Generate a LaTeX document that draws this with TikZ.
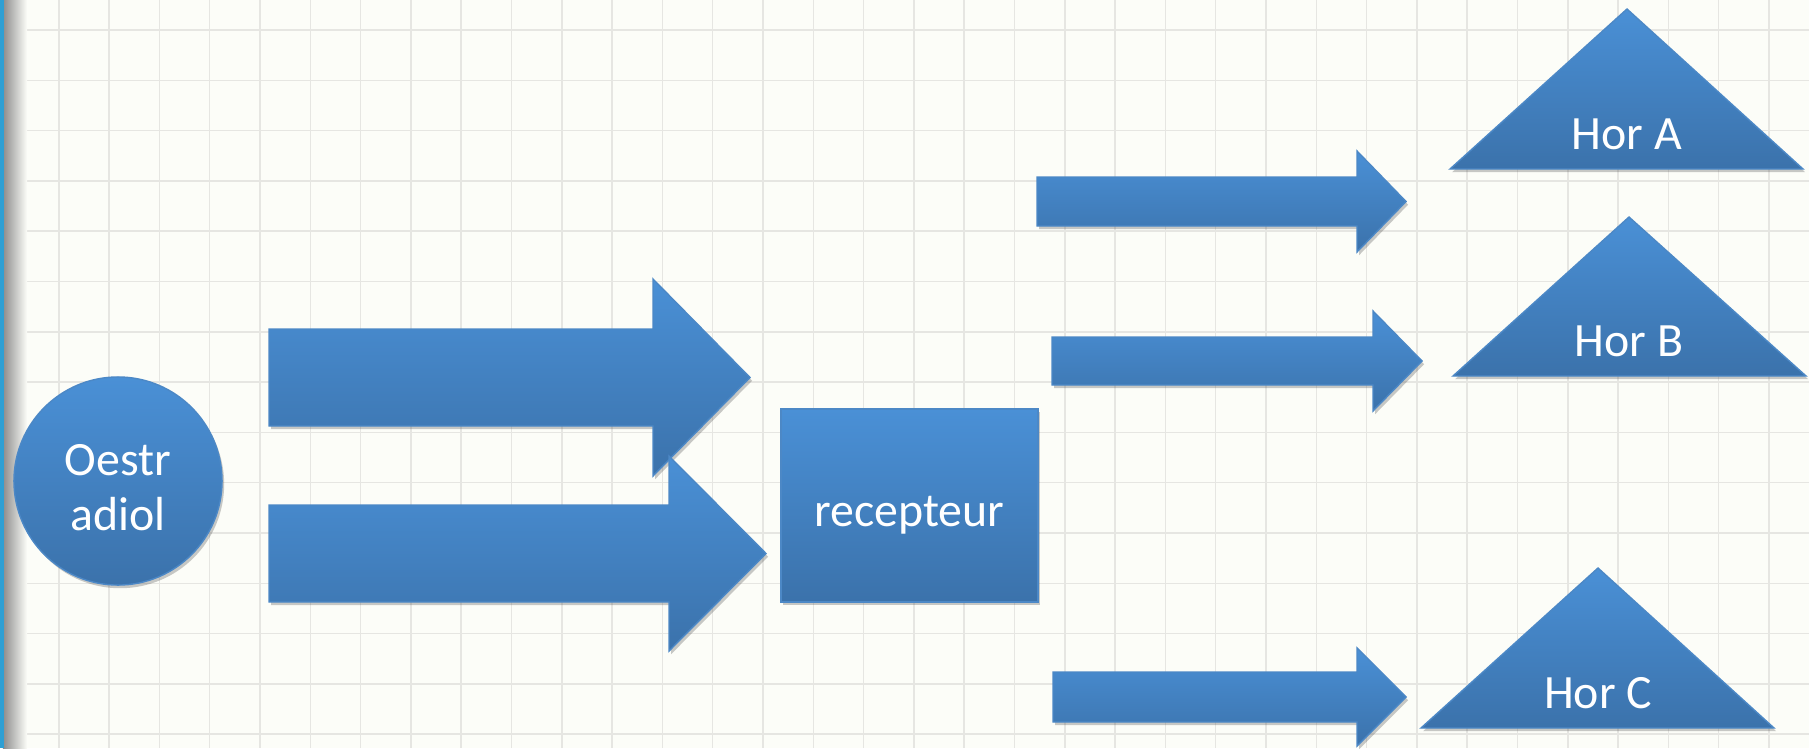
\documentclass[tikz,border=0pt]{standalone}
\usepackage{fontspec}
\setmainfont{Carlito}
\usepackage{xcolor}
\usepackage{tikz}
\usetikzlibrary{shapes.geometric,shadows,calc}
\definecolor{paper}{HTML}{FCFDF8}
\definecolor{gridln}{HTML}{E6E6E2}
\definecolor{boxtop}{HTML}{4A90D6}
\definecolor{boxbot}{HTML}{3B72AB}
\definecolor{boxedge}{HTML}{4C88C6}
\definecolor{sidebar}{HTML}{2E9FD3}

\begin{document}
\begin{tikzpicture}[
  x=0.01cm, y=-0.01cm,
  font=\fontsize{13.6}{15.6}\selectfont,
  every node/.style={align=center},
  blk/.style={top color=boxtop, bottom color=boxbot, draw=boxedge, line width=0.4pt,
              drop shadow={shadow xshift=0.6pt, shadow yshift=-0.9pt, opacity=0.3, fill=black!70}},
  lbl/.style={text=white, anchor=base, inner sep=0pt}
]
% Paper and grid
\useasboundingbox (0,0) rectangle (1809,748);
\fill[paper] (0,0) rectangle (1809,748);
\foreach \i in {0,...,34}
  \draw[gridln, line width=0.42pt] ({58.8+50.3*\i},0) -- ({58.8+50.3*\i},748);
\foreach \j in {0,...,14}
  \draw[gridln, line width=0.42pt] (0,{30+50.3*\j}) -- (1809,{30+50.3*\j});
\shade[left color=black!45, right color=paper] (3,0) rectangle (27,748);
\fill[sidebar] (0,0) rectangle (3.5,748);

% Hormone and receptor
\node[blk, circle, minimum size=2.08cm, inner sep=0pt] (oestr) at (118,481) {};
\node[text=white, inner sep=0pt] (oestrtxt) at ([yshift=-2pt]oestr.center) {Oestr\\adiol};
\node[blk, rectangle, minimum width=2.57cm, minimum height=1.93cm, inner sep=0pt,
      text=white, text height=15pt, text depth=3pt] (recep) at (909.5,505.5) {recepteur};

% Big arrows towards the receptor
\draw[blk] (269,329) -- (653,329) -- (653,279) -- (750,377.5) -- (653,476) -- (653,426) -- (269,426) -- cycle;
\draw[blk] (269,505) -- (669,505) -- (669,456) -- (766,553.5) -- (669,651) -- (669,602) -- (269,602) -- cycle;

% Small arrows towards the hormones
\draw[blk] (1037,177) -- (1357,177) -- (1357,151) -- (1406,201.5) -- (1357,252) -- (1357,226) -- (1037,226) -- cycle;
\draw[blk] (1052,337) -- (1373,337) -- (1373,311) -- (1422,361) -- (1373,411) -- (1373,385) -- (1052,385) -- cycle;
\draw[blk] (1053,672) -- (1357,672) -- (1357,648) -- (1406,697) -- (1357,746) -- (1357,722) -- (1053,722) -- cycle;

% Hormones
\draw[blk] (1627,9) -- (1803,169) -- (1450,169) -- cycle;
\node[lbl] (horA) at (1627,149) {Hor A};
\draw[blk] (1629,217) -- (1806,376) -- (1453,376) -- cycle;
\node[lbl] (horB) at (1629,356) {Hor B};
\draw[blk] (1598,568) -- (1774,728) -- (1421,728) -- cycle;
\node[lbl] (horC) at (1598,708) {Hor C};
\end{tikzpicture}
\end{document}
